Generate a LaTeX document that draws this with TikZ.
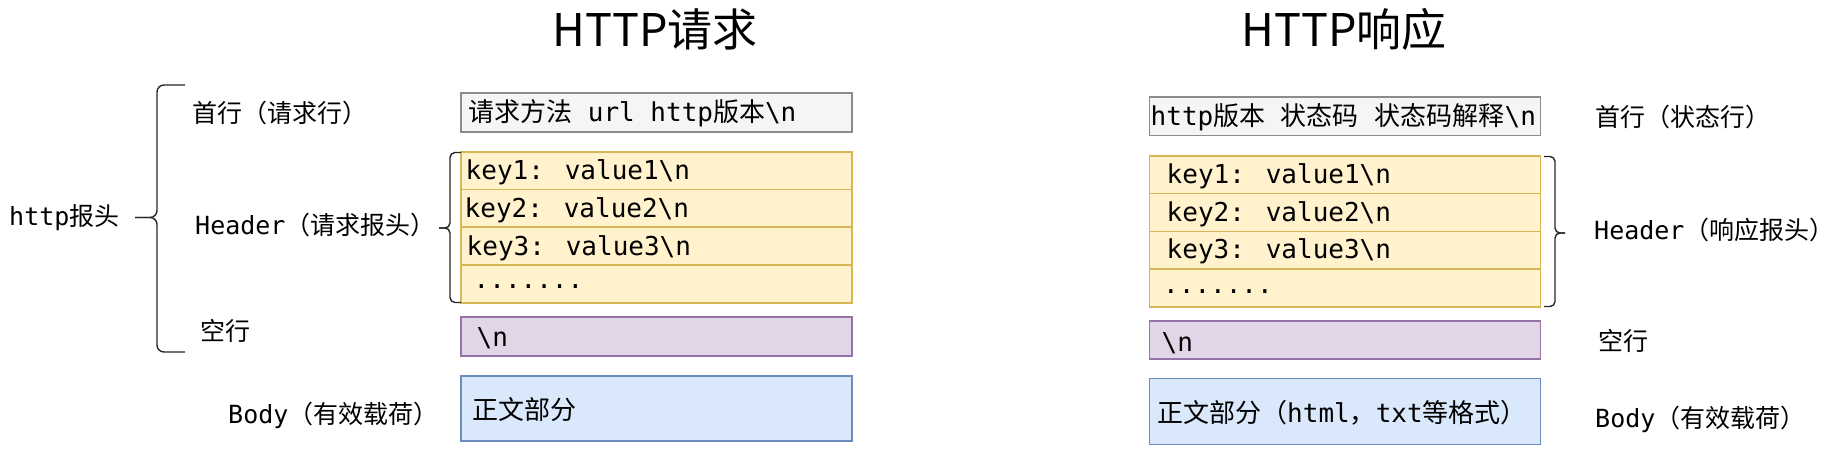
\documentclass[tikz,border=0pt]{standalone}
\usepackage{fontspec}
\setmainfont{DejaVu Sans Mono}
\newfontfamily\cjk{Noto Sans CJK SC}
\definecolor{grayfill}{HTML}{F5F5F5}
\definecolor{graydraw}{HTML}{8C8C8C}
\definecolor{yelfill}{HTML}{FFF2CC}
\definecolor{yeldraw}{HTML}{D6B656}
\definecolor{purfill}{HTML}{E1D5E7}
\definecolor{purdraw}{HTML}{9673A6}
\definecolor{blufill}{HTML}{DAE8FC}
\definecolor{bludraw}{HTML}{6C8EBF}
\tikzset{
  box/.style={rectangle, inner sep=0pt, line width=1.6pt, minimum width=391pt},
  graybox/.style={box, fill=grayfill, draw=graydraw},
  yelbox/.style={box, fill=yelfill, draw=yeldraw, minimum height=37.75pt},
  purbox/.style={box, fill=purfill, draw=purdraw},
  blubox/.style={box, fill=blufill, draw=bludraw},
  txt/.style={inner sep=0pt, anchor=base west, font=\fontsize{26}{30}\selectfont},
  lbl/.style={inner sep=0pt, anchor=base west, font=\fontsize{25}{30}\selectfont},
  ttl/.style={inner sep=0pt, anchor=base, font=\cjk\fontsize{45}{50}\selectfont},
  brace/.style={draw=black!85, line width=1.4pt, rounded corners=7pt},
}
\begin{document}
\begin{tikzpicture}[x=1pt,y=-1pt]
\useasboundingbox (0,0) rectangle (1837,457);
% titles
\node[ttl] (t1) at (655,47) {HTTP请求};
\node[ttl] (t2) at (1344,47) {HTTP响应};

% ---------- left: request ----------
\node[graybox, minimum height=39pt] (lg) at (656.2,112.8) {};
\node[yelbox] (ly1) at (656.2,170.6) {};
\node[yelbox] (ly2) at (656.2,208.35) {};
\node[yelbox] (ly3) at (656.2,246.1) {};
\node[yelbox] (ly4) at (656.2,283.85) {};
\node[purbox, minimum height=39.3pt] (lp) at (656.2,336.35) {};
\node[blubox, minimum height=65pt] (lb) at (656.2,408.2) {};

\node[txt] (lgt) at (468,122) {{\cjk 请求方法} url http{\cjk 版本}\textbackslash n};
\node[txt] (ly1t) at (465.5,180) {key1: value1\textbackslash n};
\node[txt] (ly2t) at (464.5,218) {key2: value2\textbackslash n};
\node[txt] (ly3t) at (466.5,255) {key3: value3\textbackslash n};
\node[txt] (ly4t) at (473.5,288.5) {.......};
\node[txt] (lpt) at (476.5,346.5) {\textbackslash n};
\node[txt] (lbt) at (472.5,419) {\cjk 正文部分};

% left labels
\node[lbl] (lh) at (9,226) {http{\cjk 报头}};
\node[lbl] (l1) at (192,123) {\cjk 首行（请求行）};
\node[lbl] (l2) at (195,235) {Header{\cjk （请求报头）}};
\node[lbl] (l3) at (200,340) {\cjk 空行};
\node[lbl] (l4) at (228,423) {Body{\cjk （有效载荷）}};

% left braces
\draw[brace] (185,85) -- (157,85) -- (157,217.5) -- (135,217.5);
\draw[brace] (185,352) -- (157,352) -- (157,217.5) -- (135,217.5);
\draw[brace, rounded corners=5pt] (461,152.5) -- (450,152.5) -- (450,228) -- (439,228);
\draw[brace, rounded corners=5pt] (461,302.5) -- (450,302.5) -- (450,228) -- (439,228);

% ---------- right: response ----------
\node[graybox, minimum height=38.4pt] (rg) at (1345,116.5) {};
\node[yelbox] (ry1) at (1345,174.8) {};
\node[yelbox] (ry2) at (1345,212.5) {};
\node[yelbox] (ry3) at (1345,250.2) {};
\node[yelbox] (ry4) at (1345,287.9) {};
\node[purbox, minimum height=38.3pt] (rp) at (1345,339.85) {};
\node[blubox, minimum height=66pt] (rb) at (1345,411.3) {};

\node[txt] (rgt) at (1150.5,126) {http{\cjk 版本} {\cjk 状态码} {\cjk 状态码解释}\textbackslash n};
\node[txt] (ry1t) at (1166.5,184) {key1: value1\textbackslash n};
\node[txt] (ry2t) at (1166.5,221.7) {key2: value2\textbackslash n};
\node[txt] (ry3t) at (1166.5,258.3) {key3: value3\textbackslash n};
\node[txt] (ry4t) at (1163,293.3) {.......};
\node[txt] (rpt) at (1161.5,351.7) {\textbackslash n};
\node[txt] (rbt) at (1157,422) {{\cjk 正文部分（}html{\cjk ，}txt{\cjk 等格式）}};

% right labels
\node[lbl] (r1) at (1595,127) {\cjk 首行（状态行）};
\node[lbl] (r2) at (1594,239.5) {Header{\cjk （响应报头）}};
\node[lbl] (r3) at (1598,350) {\cjk 空行};
\node[lbl] (r4) at (1595,427) {Body{\cjk （有效载荷）}};

% right brace
\draw[brace, rounded corners=5pt] (1544,156.5) -- (1555,156.5) -- (1555,233) -- (1565,233);
\draw[brace, rounded corners=5pt] (1544,306.5) -- (1555,306.5) -- (1555,233) -- (1565,233);
\end{tikzpicture}
\end{document}
